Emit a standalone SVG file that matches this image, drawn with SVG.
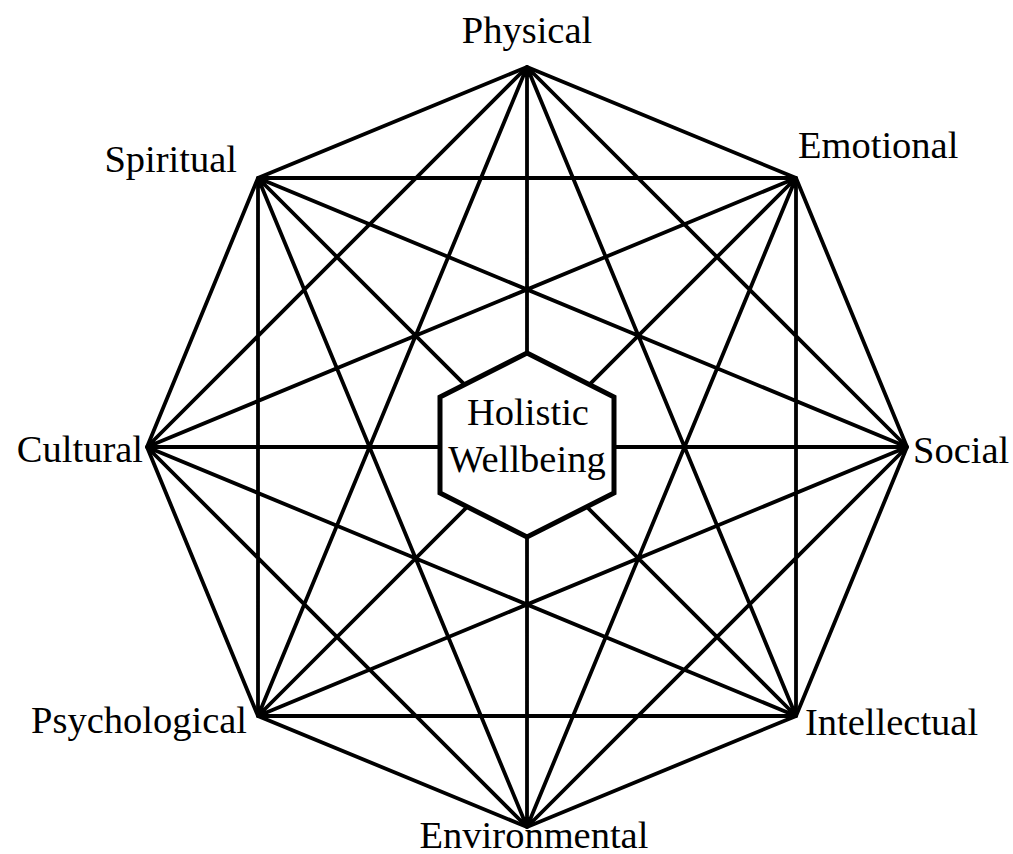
<svg xmlns="http://www.w3.org/2000/svg" width="1013" height="854" viewBox="0 0 1013 854">
<style>
.e{stroke:#000;stroke-width:3.8;stroke-linecap:round;fill:none}
.t{font-family:"Liberation Serif","Times New Roman",serif;font-size:38.5px;fill:#000}
</style>
<rect width="1013" height="854" fill="#fff"/>
<g id="connectors" class="e">
<polygon points="527,67 796,178 907,447 796,716 527,827 258,716 147,447 258,178" stroke-linejoin="miter"/>
<path d="M527,67L907,447M527,67L796,716M527,67L527,827M527,67L258,716M527,67L147,447
M796,178L796,716M796,178L527,827M796,178L258,716M796,178L147,447M796,178L258,178
M907,447L527,827M907,447L258,716M907,447L147,447M907,447L258,178
M796,716L258,716M796,716L147,447M796,716L258,178
M527,827L147,447M527,827L258,178
M258,716L258,178"/>
</g>
<g id="center">
<polygon points="527,353 614,397 614,493 527,537 440,493 440,397" fill="#fff" stroke="#000" stroke-width="5"/>
<text class="t" x="528" y="425" text-anchor="middle">Holistic</text>
<text class="t" x="527" y="472" text-anchor="middle">Wellbeing</text>
</g>
<g id="physical"><text class="t" x="527" y="43" text-anchor="middle">Physical</text></g>
<g id="emotional"><text class="t" x="798" y="158">Emotional</text></g>
<g id="social"><text class="t" x="913" y="463">Social</text></g>
<g id="intellectual"><text class="t" x="805" y="735">Intellectual</text></g>
<g id="environmental"><text class="t" x="534" y="848" text-anchor="middle">Environmental</text></g>
<g id="psychological"><text class="t" x="247" y="733" text-anchor="end">Psychological</text></g>
<g id="cultural"><text class="t" x="143" y="462" text-anchor="end">Cultural</text></g>
<g id="spiritual"><text class="t" x="237" y="172" text-anchor="end">Spiritual</text></g>
</svg>
